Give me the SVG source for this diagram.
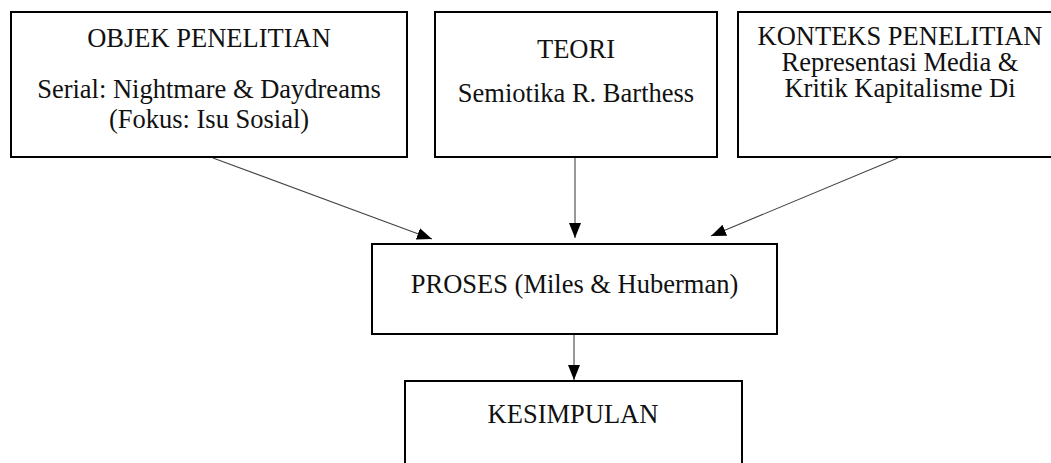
<svg xmlns="http://www.w3.org/2000/svg" width="1051" height="463" viewBox="0 0 1051 463">
<style>
.box{fill:#fff;stroke:#000;stroke-width:2}
.t{font-family:"Liberation Serif","Times New Roman",serif;font-size:26.5px;fill:#111;text-anchor:middle}
.c{stroke:#444;stroke-width:1.1;fill:none}
</style>
<defs>
<marker id="ah" markerUnits="userSpaceOnUse" markerWidth="16" markerHeight="14" viewBox="0 0 16 14" refX="15" refY="7" orient="auto">
<path d="M0,1 L15,7 L0,13 Z" fill="#000"/>
</marker>
</defs>
<rect width="1051" height="463" fill="#fff"/>
<g id="connectors">
<line class="c" x1="213" y1="158" x2="432" y2="239" marker-end="url(#ah)"/>
<line class="c" x1="575" y1="158" x2="575" y2="238" marker-end="url(#ah)"/>
<line class="c" x1="898" y1="158" x2="711" y2="236" marker-end="url(#ah)"/>
<line class="c" x1="574" y1="335" x2="574" y2="380" marker-end="url(#ah)"/>
</g>
<g id="objek">
<rect class="box" x="11" y="12" width="396" height="145"/>
<text class="t" x="209" y="47">OBJEK PENELITIAN</text>
<text class="t" x="209" y="98">Serial: Nightmare &amp; Daydreams<tspan x="209" y="128">(Fokus: Isu Sosial)</tspan></text>
</g>
<g id="teori">
<rect class="box" x="435" y="12" width="282" height="145"/>
<text class="t" x="576" y="58">TEORI</text>
<text class="t" x="576" y="102">Semiotika R. Barthess</text>
</g>
<g id="konteks">
<rect class="box" x="738" y="12" width="330" height="145"/>
<text class="t" x="900" y="45">KONTEKS PENELITIAN<tspan x="900" y="71">Representasi Media &amp;</tspan><tspan x="900" y="97">Kritik Kapitalisme Di</tspan></text>
</g>
<g id="proses">
<rect class="box" x="372" y="244" width="405" height="90"/>
<text class="t" x="574.5" y="293">PROSES (Miles &amp; Huberman)</text>
</g>
<g id="kesimpulan">
<rect class="box" x="405" y="381" width="337" height="100"/>
<text class="t" x="573" y="423">KESIMPULAN</text>
</g>
</svg>
